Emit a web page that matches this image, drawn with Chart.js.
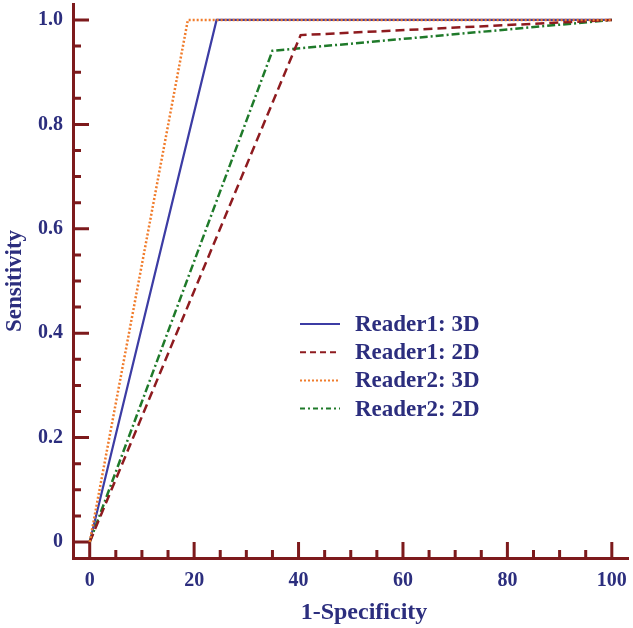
<!DOCTYPE html>
<html>
<head>
<meta charset="utf-8">
<title>ROC curves</title>
<script src="https://cdn.jsdelivr.net/npm/chart.js@4.4.1/dist/chart.umd.min.js"></script>
<style>
  html, body { margin: 0; padding: 0; background: #fff; }
</style>
</head>
<body>
<canvas id="rocChart" width="633" height="628"></canvas>
<script>
// ROC points, 1-specificity (%) vs sensitivity
const seriesNames = ['Reader1: 3D', 'Reader1: 2D', 'Reader2: 3D', 'Reader2: 2D'];
const r1_3d_x = [0, 24.3, 100];
const r1_3d_y = [0, 1.0, 1.0];
const r1_2d_x = [0, 40.4, 100];
const r1_2d_y = [0, 0.971, 1.0];
const r2_3d_x = [0, 18.8, 100];
const r2_3d_y = [0, 1.0, 1.0];
const r2_2d_x = [0, 35.0, 100];
const r2_2d_y = [0, 0.941, 1.0];

const xTicks = [0, 20, 40, 60, 80, 100];
const yTicks = [0, 0.2, 0.4, 0.6, 0.8, 1.0];
const yTickLabels = ['0', '0.2', '0.4', '0.6', '0.8', '1.0'];
const xTitle = '1-Specificity';
const yTitle = 'Sensitivity';

const textColor = '#2c2e7e';
const axisColor = '#7d1a1c';
const serif = "'Liberation Serif', 'Times New Roman', serif";

function toPoints(xs, ys) {
    return xs.map((v, i) => ({ x: v, y: ys[i] }));
}

// small tick marks pointing into the plot, majors at the labelled values
const innerTicks = {
    id: 'innerTicks',
    beforeDatasetsDraw(chart) {
        const { ctx, chartArea } = chart;
        const x = chart.scales.x, y = chart.scales.y;
        ctx.save();
        ctx.strokeStyle = axisColor;
        ctx.lineWidth = 3;
        ctx.beginPath();
        const xStep = (xTicks[1] - xTicks[0]) / 4;
        for (let v = xTicks[0]; v <= xTicks[xTicks.length - 1] + 1e-9; v += xStep) {
            const px = x.getPixelForValue(v);
            const len = xTicks.some(t => Math.abs(t - v) < 1e-6) ? 16 : 8;
            ctx.moveTo(px, chartArea.bottom);
            ctx.lineTo(px, chartArea.bottom - len);
        }
        const yStep = (yTicks[1] - yTicks[0]) / 4;
        for (let v = yTicks[0]; v <= yTicks[yTicks.length - 1] + 1e-9; v += yStep) {
            const py = y.getPixelForValue(v);
            const len = yTicks.some(t => Math.abs(t - v) < 1e-6) ? 16 : 8;
            ctx.moveTo(chartArea.left, py);
            ctx.lineTo(chartArea.left + len, py);
        }
        ctx.stroke();
        ctx.restore();
    }
};

// legend inside the plot area + x title (sits a bit right of centre in the original)
const insideLegend = {
    id: 'insideLegend',
    afterDraw(chart) {
        const ctx = chart.ctx;
        const left = 300, top = 324, rowH = 28.2;
        ctx.save();
        chart.data.datasets.forEach((ds, i) => {
            const yy = top + i * rowH;
            ctx.strokeStyle = ds.borderColor;
            ctx.lineWidth = 2;
            ctx.setLineDash(ds.legendDash || []);
            ctx.beginPath();
            ctx.moveTo(left, yy);
            ctx.lineTo(left + 40, yy);
            ctx.stroke();
            ctx.setLineDash([]);
            ctx.fillStyle = textColor;
            ctx.font = 'bold 23px ' + serif;
            ctx.textBaseline = 'middle';
            ctx.textAlign = 'left';
            ctx.fillText(ds.label, left + 55, yy + 1);
        });
        ctx.font = 'bold 24px ' + serif;
        ctx.textAlign = 'center';
        ctx.textBaseline = 'alphabetic';
        ctx.fillText(xTitle, 364, 619);
        ctx.restore();
    }
};

const ctx = document.getElementById('rocChart').getContext('2d');
const rocChart = new Chart(ctx, {
    type: 'scatter',
    data: {
        datasets: [{
            label: seriesNames[0],
            data: toPoints(r1_3d_x, r1_3d_y),
            borderColor: '#3c3ca4',
            borderWidth: 2.2,
            order: 3,
            legendDash: []
        }, {
            label: seriesNames[1],
            data: toPoints(r1_2d_x, r1_2d_y),
            borderColor: '#8e1b1f',
            borderWidth: 2.5,
            borderDash: [9, 5],
            order: 1,
            legendDash: [6, 4]
        }, {
            label: seriesNames[2],
            data: toPoints(r2_3d_x, r2_3d_y),
            borderColor: '#f07c2c',
            borderWidth: 2.5,
            borderDash: [2, 2],
            order: 0,
            legendDash: [2, 2]
        }, {
            label: seriesNames[3],
            data: toPoints(r2_2d_x, r2_2d_y),
            borderColor: '#1f7a2a',
            borderWidth: 2.5,
            borderDash: [8, 3, 2, 3],
            order: 2,
            legendDash: [5, 3, 2, 3]
        }]
    },
    options: {
        responsive: false,
        animation: false,
        showLine: true,
        elements: {
            point: { radius: 0, hoverRadius: 0 },
            line: { tension: 0, borderCapStyle: 'butt' }
        },
        layout: { padding: { top: 4, right: 5, bottom: 0, left: 0 } },
        plugins: {
            legend: { display: false },
            tooltip: { enabled: false }
        },
        scales: {
            x: {
                type: 'linear',
                min: -3.2,
                max: 103.1,
                afterFit(scale) {
                    scale.height = 70;
                    scale.paddingLeft = 0;
                    scale.paddingRight = 0;
                },
                afterBuildTicks(scale) { scale.ticks = xTicks.map(v => ({ value: v })); },
                grid: { display: false, drawTicks: false },
                border: { display: true, color: axisColor, width: 3 },
                ticks: {
                    color: textColor,
                    padding: 11,
                    maxRotation: 0,
                    font: { family: serif, size: 20, weight: 'bold' },
                    callback: v => String(v)
                },
                title: { display: false }
            },
            y: {
                type: 'linear',
                min: -0.0306,
                max: 1.0306,
                afterFit(scale) {
                    scale.width = 73;
                    scale.paddingTop = 0;
                    scale.paddingBottom = 0;
                },
                afterBuildTicks(scale) { scale.ticks = yTicks.map(v => ({ value: v })); },
                grid: { display: false, drawTicks: false },
                border: { display: true, color: axisColor, width: 3 },
                ticks: {
                    color: textColor,
                    padding: 10,
                    font: { family: serif, size: 20, weight: 'bold' },
                    callback: (v, i) => yTickLabels[i]
                },
                title: {
                    display: true,
                    text: yTitle,
                    color: textColor,
                    padding: { top: 1, bottom: 0 },
                    font: { family: serif, size: 23, weight: 'bold' }
                }
            }
        }
    },
    plugins: [innerTicks, insideLegend]
});
</script>
</body>
</html>
